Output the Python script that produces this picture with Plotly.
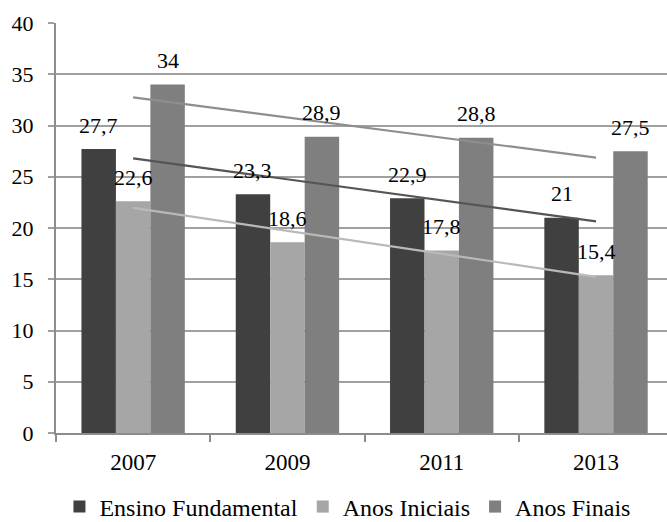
import numpy as np
import plotly.graph_objects as go

# Taxa de distorção idade-série (%) por etapa de ensino
anos = ["2007", "2009", "2011", "2013"]
ensino_fundamental = [27.7, 23.3, 22.9, 21.0]
anos_iniciais = [22.6, 18.6, 17.8, 15.4]
anos_finais = [34.0, 28.9, 28.8, 27.5]

series = [
    ("Ensino Fundamental", ensino_fundamental, "#404040", "#555555"),
    ("Anos Iniciais", anos_iniciais, "#a6a6a6", "#b9b9b9"),
    ("Anos Finais", anos_finais, "#7f7f7f", "#8e8e8e"),
]

FONT = "'Liberation Serif', 'Times New Roman', 'DejaVu Serif', serif"
BARGAP = 0.33
n_series = len(series)
bar_w = (1 - BARGAP) / n_series  # bar width in category units
X_RANGE = [-0.5, len(anos) - 0.54]  # last category runs slightly past the frame

fig = go.Figure()

# grouped bars
for name, vals, color, _ in series:
    fig.add_trace(go.Bar(
        x=anos, y=vals, name=name,
        marker=dict(color=color, line=dict(width=0)),
    ))

# linear trend line for each series
idx = np.arange(len(anos))
for name, vals, _, lcolor in series:
    slope, intercept = np.polyfit(idx, vals, 1)
    fig.add_trace(go.Scatter(
        x=anos, y=slope * idx + intercept, mode="lines",
        line=dict(color=lcolor, width=2.2),
        showlegend=False, hoverinfo="skip",
    ))

# value labels above each bar (numeric twin axis for exact bar centres)
def fmt(v):
    return f"{v:g}".replace(".", ",")

annotations = []
for j, (name, vals, _, _) in enumerate(series):
    offset = (j - (n_series - 1) / 2) * bar_w
    for i, v in enumerate(vals):
        annotations.append(dict(
            x=i + offset, y=v, xref="x2", yref="y",
            text=fmt(v), showarrow=False,
            yanchor="middle", yshift=24,
            font=dict(family=FONT, size=22, color="#000000"),
        ))

fig.add_trace(go.Scatter(x=X_RANGE, y=[0, 0], xaxis="x2", mode="lines",
                         line=dict(width=0), showlegend=False, hoverinfo="skip"))

fig.update_layout(
    width=667, height=522,
    margin=dict(l=56, r=0, t=23, b=89, autoexpand=False),
    paper_bgcolor="white", plot_bgcolor="white",
    barmode="group", bargap=BARGAP, bargroupgap=0,
    font=dict(family=FONT, size=22, color="#000000"),
    annotations=annotations,
    showlegend=True,
    legend=dict(
        orientation="h", x=0.477, xanchor="center", y=-0.1805, yanchor="middle",
        font=dict(family=FONT, size=24, color="#000000"),
        itemwidth=30, tracegroupgap=0,
    ),
    xaxis=dict(
        type="category", range=X_RANGE, showgrid=False,
        showline=True, linecolor="#8c8c8c", linewidth=2,
        ticks="outside", tickson="boundaries", ticklen=7,
        tickcolor="#8c8c8c", tickwidth=2, ticklabelstandoff=7,
        tickfont=dict(family=FONT, size=23, color="#000000"),
    ),
    xaxis2=dict(overlaying="x", range=X_RANGE, visible=False),
    yaxis=dict(
        range=[0, 40], dtick=5, tick0=0,
        showgrid=True, gridcolor="#a0a0a0", gridwidth=2,
        showline=True, linecolor="#8c8c8c", linewidth=2,
        ticks="outside", ticklen=6, tickcolor="#a0a0a0", tickwidth=2,
        ticklabelstandoff=10, zeroline=False,
        tickfont=dict(family=FONT, size=22, color="#000000"),
    ),
)

fig.write_html("out.html")
